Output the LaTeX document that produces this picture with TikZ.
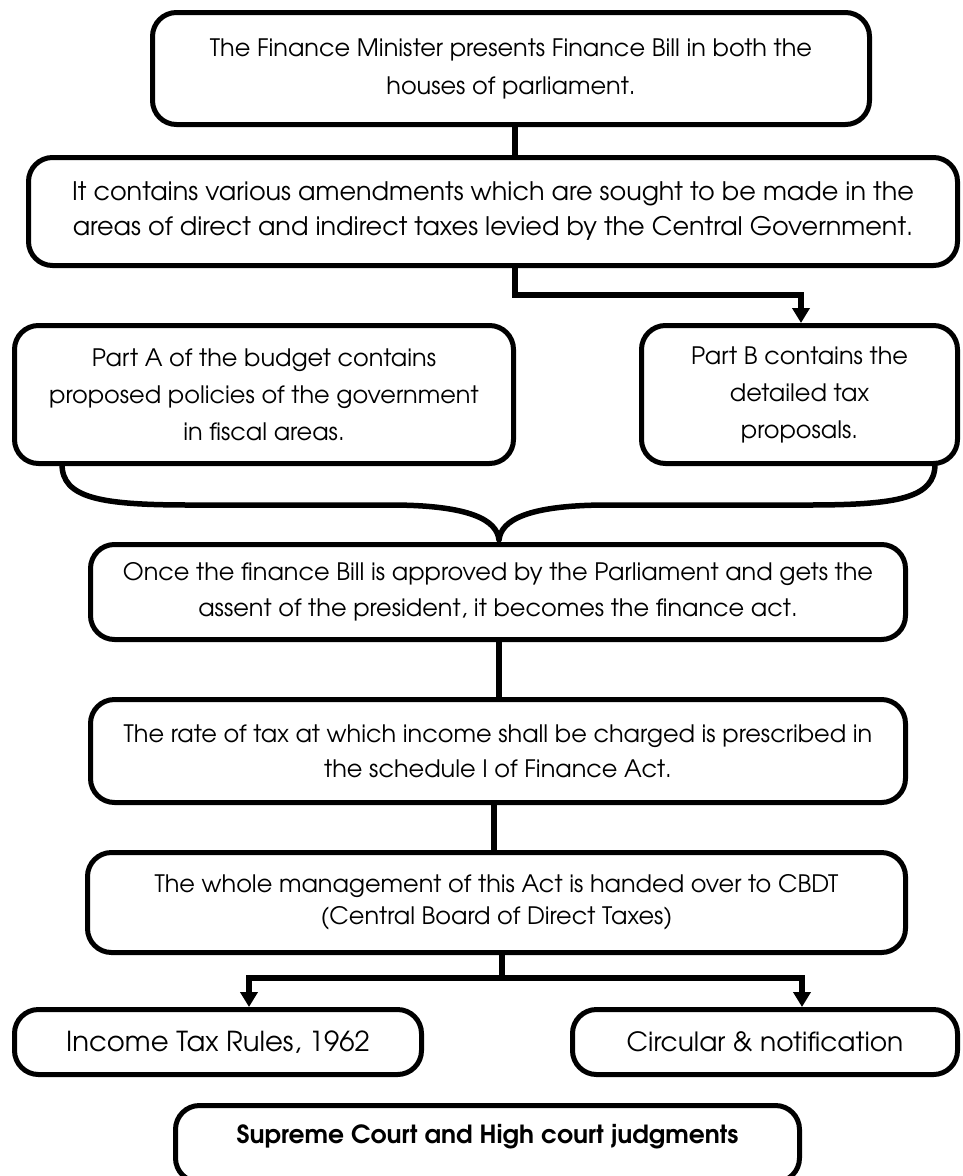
\documentclass[tikz,border=0pt]{standalone}
\usepackage{fontspec}
\setmainfont{texgyreadventor}[Extension=.otf, UprightFont=*-regular, BoldFont=*-bold]
\usetikzlibrary{arrows.meta,calc}

\begin{document}
\begin{tikzpicture}[x=1pt,y=-1pt,
  box/.style={draw, line width=5pt, rounded corners=24pt, align=center,
    inner sep=0pt, font=\fontsize{24}{36}\selectfont},
  link/.style={line width=5.5pt},
  arr/.style={link, -{Triangle[width=17pt,length=15pt]}}]
\useasboundingbox (0,0) rectangle (963,1176);

% main flow boxes
\node[box, minimum width=717pt, minimum height=112pt] (b1) at (511,68.5)
  {The Finance Minister presents Finance Bill in both the\\[2pt]houses of parliament.};
\node[box, minimum width=929pt, minimum height=108pt, font=\fontsize{25.5}{36}\selectfont] (b2) at (493,211.5)
  {It contains various amendments which are sought to be made in the\\[-1pt]areas of direct and indirect taxes levied by the Central Government.};
\node[box, minimum width=499pt, minimum height=138pt] (pa) at (264,394.5)
  {Part A of the budget contains\\[1pt]proposed policies of the government\\[1pt]in fiscal areas.};
\node[box, minimum width=316pt, minimum height=138pt] (pb) at (799.5,394.5)
  {Part B contains the\\[1pt]detailed tax\\[1pt]proposals.};
\node[box, minimum width=815pt, minimum height=95pt] (once) at (498,592)
  {Once the finance Bill is approved by the Parliament and gets the\\assent of the president, it becomes the finance act.};
\node[box, minimum width=815pt, minimum height=103pt] (rate) at (498,751)
  {The rate of tax at which income shall be charged is prescribed in\\[-1pt]the schedule I of Finance Act.};
\node[box, minimum width=818pt, minimum height=100pt] (cbdt) at (496.5,902.5)
  {The whole management of this Act is handed over to CBDT\\[-4pt](Central Board of Direct Taxes)};
\node[box, minimum width=407pt, minimum height=65pt, font=\fontsize{27.5}{36}\selectfont] (itr) at (218,1042)
  {Income Tax Rules, 1962};
\node[box, minimum width=385pt, minimum height=65pt, font=\fontsize{26.5}{36}\selectfont] (circ) at (765,1042)
  {Circular \& notification};
\node[box, minimum width=624pt, minimum height=76.5pt, text height=20pt, text depth=20pt,
  font=\fontsize{25}{36}\selectfont\bfseries] (sc) at (487.5,1143.75)
  {Supreme Court and High court judgments};

% connector junction points
\coordinate (j1) at (515,0);
\coordinate (k1) at (801,295);
\coordinate (j2) at (499,0);
\coordinate (j3) at (494,0);
\coordinate (j4) at (502,978);
\coordinate (al) at (249,0);
\coordinate (ar) at (802,0);

\draw[link] (b1.south -| j1) -- (b2.north -| j1);
\draw[arr] (b2.south -| j1) |- (k1) -- (pb.north -| k1);
\draw[link] (once.south -| j2) -- (rate.north -| j2);
\draw[link] (rate.south -| j3) -- (cbdt.north -| j3);
\draw[link] (cbdt.south -| j4) -- (j4);
\draw[arr] (j4) -| (itr.north -| al);
\draw[arr] (j4) -| (circ.north -| ar);

% curly brace joining Part A and Part B into the next step
\coordinate (braceL) at (62,464);
\coordinate (braceTip) at (499,540);
\coordinate (braceR) at (935,464);
\draw[link, line join=round]
  (braceL) .. controls (62,498) and (100,505) .. (190,505) -- (390,505)
  .. controls (470,505) and (497,520) .. (braceTip)
  .. controls (501,520) and (528,505) .. (608,505) -- (808,505)
  .. controls (898,505) and (935,498) .. (braceR);
\end{tikzpicture}
\end{document}
